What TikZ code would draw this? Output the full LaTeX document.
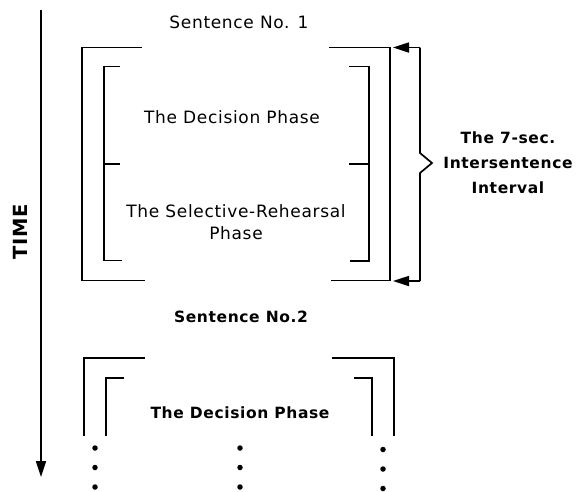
\documentclass[tikz,border=0pt]{standalone}
\usepackage{fontspec}
\setmainfont{DejaVu Sans}
\newfontfamily\lettering[LetterSpace=4]{DejaVu Sans}
\usetikzlibrary{arrows.meta}

\tikzset{
  rule/.style={line width=1.7pt, line cap=butt, line join=miter},
  lbl/.style={inner sep=0pt, font=\lettering\fontsize{17}{22}\selectfont},
  lblb/.style={inner sep=0pt, font=\lettering\bfseries\fontsize{15.5}{25}\selectfont},
  dot/.style={circle, fill=black, inner sep=0pt, minimum size=5.5pt},
  tip/.style={-{Triangle[length=16pt,width=10pt]}}
}

\begin{document}
\begin{tikzpicture}[x=1pt,y=-1pt]
\useasboundingbox (0,0) rectangle (584,491);

% time axis
\coordinate (t0) at (41,10);
\coordinate (t1) at (41,477);
\draw[rule, tip] (t0) -- (t1);
\node[lblb, font=\lettering\bfseries\fontsize{19.5}{22}\selectfont, rotate=90] (time) at (20,232) {TIME};

% sentence 1
\node[lbl] (s1) at (239,22) {Sentence No. 1};
\node[lbl] (dec1) at (232,117) {The Decision Phase};
\node[lbl, align=center] (reh1) at (236,222) {The Selective-Rehearsal\\Phase};

% outer bracket, sentence 1
\draw[rule] (142,47.5) -- (82,47.5) -- (82,280.5) -- (145,280.5);
\draw[rule] (329,47.5) -- (390,47.5) -- (390,280.5) -- (331,280.5);
% inner bracket, sentence 1
\draw[rule] (120,66.5) -- (104,66.5) -- (104,260.5) -- (122,260.5);
\draw[rule] (104,164) -- (120,164);
\draw[rule] (349,66.5) -- (369,66.5) -- (369,261) -- (350,261);
\draw[rule] (349,164) -- (369,164);

% interval brace with arrows
\coordinate (aTop) at (393,47.5);
\coordinate (aBot) at (393,281);
\draw[rule, tip] (420,47.5) -- (aTop);
\draw[rule, tip] (420,281) -- (aBot);
\draw[rule] (420,47.5) -- (420,153) -- (432,163) -- (420,173) -- (420,281);
\node[lblb, align=center] (interval) at (508,163) {The 7-sec.\\Intersentence\\Interval};

% sentence 2
\node[lblb] (s2) at (241,317) {Sentence No.2};
\draw[rule] (145,358) -- (84,358) -- (84,436);
\draw[rule] (332,358) -- (394,358) -- (394,436);
\draw[rule] (124,378) -- (106,378) -- (106,436);
\draw[rule] (354,378) -- (372,378) -- (372,436);
\node[lblb] (dec2) at (240,413) {The Decision Phase};

% continuation dots
\foreach \x/\d in {95/0, 240/0, 383/1.5} {
  \foreach \y in {448, 467.5, 487} {
    \node[dot] at (\x,\y+\d) {};
  }
}
\end{tikzpicture}
\end{document}
